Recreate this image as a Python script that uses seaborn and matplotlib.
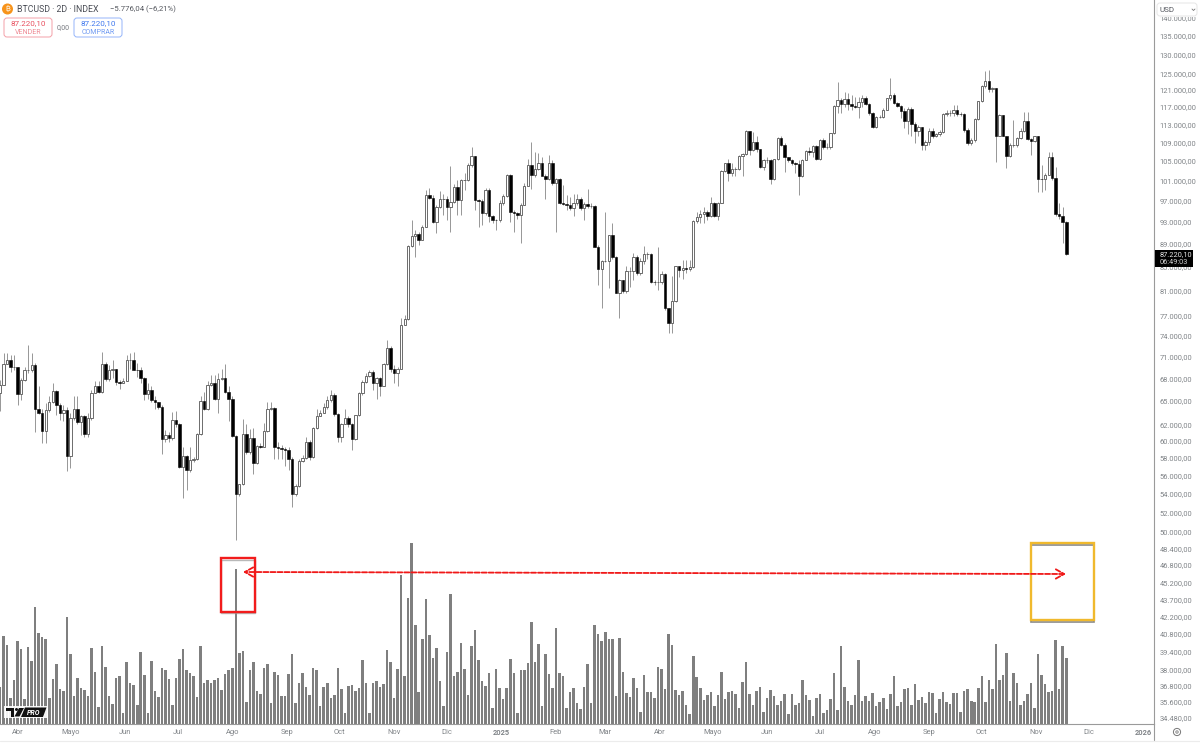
import matplotlib
matplotlib.use("Agg")
import numpy as np
import pandas as pd
import seaborn as sns
import matplotlib.pyplot as plt
from matplotlib.patches import Rectangle, FancyBboxPatch, Circle, Polygon

# 2D candles, thousands of USD
closes = [
    67.1, 70.0, 70.6, 69.5, 69.6, 65.9, 67.7, 69.2, 69.2, 69.9,
    63.9, 63.4, 61.2, 63.8, 64.9, 66.3, 64.4, 63.4, 63.8, 58.2,
    62.8, 64.0, 62.3, 63.0, 60.8, 62.8, 66.0, 66.9, 66.1, 70.0,
    67.9, 69.2, 69.3, 67.5, 67.4, 67.6, 70.5, 70.6, 69.2, 69.1,
    68.1, 65.9, 66.4, 65.1, 64.8, 64.2, 60.2, 60.7, 60.3, 62.6,
    62.0, 57.0, 58.2, 56.6, 57.7, 57.9, 60.8, 65.0, 63.9, 67.1,
    67.4, 65.2, 67.9, 68.1, 66.1, 65.2, 60.6, 54.0, 55.0, 60.8,
    58.7, 60.4, 57.4, 59.4, 59.3, 61.2, 64.0, 64.1, 59.3, 59.2,
    59.0, 58.9, 57.9, 53.9, 54.8, 57.6, 58.0, 59.9, 58.1, 61.6,
    63.1, 63.5, 64.2, 65.1, 65.8, 63.3, 60.5, 62.1, 62.8, 62.1,
    60.2, 63.2, 66.0, 67.5, 68.3, 68.8, 67.3, 68.0, 66.9, 70.0,
    72.3, 69.3, 68.7, 69.3, 75.7, 76.5, 88.6, 90.3, 90.8, 89.7,
    92.1, 98.2, 97.6, 92.9, 95.7, 97.3, 97.3, 95.7, 96.8, 99.6,
    97.1, 101.0, 101.1, 104.2, 106.0, 97.1, 97.0, 94.6, 99.1, 94.0,
    93.4, 93.3, 96.6, 98.0, 102.1, 94.9, 94.6, 94.2, 96.2, 99.9,
    104.2, 102.2, 103.3, 104.5, 102.0, 101.2, 104.5, 100.4, 101.2, 96.5,
    96.4, 96.2, 95.5, 96.5, 97.3, 95.5, 96.4, 96.0, 96.0, 88.5,
    84.6, 86.0, 86.0, 90.5, 86.7, 80.6, 82.8, 80.9, 84.2, 84.2,
    86.7, 83.9, 85.9, 87.2, 87.2, 82.5, 82.4, 82.4, 83.7, 78.2,
    76.0, 79.4, 85.1, 84.4, 84.7, 84.6, 84.9, 93.2, 93.8, 94.5,
    94.9, 94.1, 96.6, 94.1, 96.6, 103.0, 104.5, 102.6, 103.3, 103.3,
    106.1, 106.5, 111.5, 107.3, 109.1, 107.5, 103.8, 105.3, 105.3, 101.3,
    105.4, 110.0, 108.4, 105.8, 105.3, 104.5, 104.4, 102.0, 105.3, 107.1,
    107.0, 108.2, 105.4, 109.5, 108.0, 108.0, 111.0, 117.3, 118.6, 117.6,
    118.9, 117.6, 117.2, 117.1, 118.2, 119.0, 117.8, 115.6, 112.3, 114.7,
    114.7, 116.4, 119.0, 119.8, 118.0, 117.2, 116.1, 113.8, 116.6, 113.1,
    111.6, 112.3, 108.4, 109.1, 111.6, 110.4, 110.8, 111.3, 115.4, 115.7,
    115.7, 116.2, 115.4, 115.3, 111.7, 108.8, 109.5, 114.2, 118.3, 121.9,
    123.2, 121.2, 121.4, 110.5, 115.2, 110.5, 106.1, 108.4, 108.4, 109.9,
    111.5, 113.8, 109.7, 109.4, 110.3, 101.3, 101.2, 102.1, 105.8, 101.4,
    94.4, 94.1, 93.0, 87.22,
]
highs = [
    67.8, 71.5, 71.5, 71.2, 71.2, 69.6, 68.0, 69.6, 72.7, 71.5,
    70.1, 66.9, 64.0, 64.7, 65.6, 67.3, 66.4, 64.7, 64.5, 64.2,
    63.4, 65.6, 65.6, 63.2, 63.2, 63.4, 66.4, 67.6, 67.6, 71.7,
    70.3, 69.8, 70.5, 69.3, 67.8, 68.0, 71.2, 71.5, 71.7, 70.1,
    69.6, 68.2, 67.3, 66.9, 65.6, 64.9, 64.5, 61.3, 61.1, 63.6,
    63.7, 62.2, 59.3, 58.3, 59.3, 58.1, 60.9, 65.6, 66.2, 67.6,
    68.5, 68.5, 68.7, 69.3, 70.0, 66.9, 65.6, 60.7, 55.0, 62.7,
    62.0, 61.5, 61.6, 59.5, 59.7, 62.2, 64.9, 64.9, 64.2, 59.9,
    59.5, 59.3, 59.3, 58.1, 55.0, 57.9, 58.3, 60.5, 60.1, 61.7,
    64.0, 63.8, 64.7, 65.6, 66.4, 66.0, 63.4, 62.2, 64.0, 63.0,
    62.2, 63.2, 66.2, 67.8, 68.7, 69.1, 69.1, 68.2, 68.2, 70.1,
    73.4, 72.5, 69.8, 69.6, 76.7, 77.2, 88.8, 93.3, 91.5, 91.2,
    92.4, 99.1, 99.4, 98.1, 96.1, 98.9, 98.3, 98.0, 104.0, 100.2,
    101.1, 101.2, 102.5, 104.5, 108.0, 106.1, 97.4, 97.4, 99.4, 99.4,
    94.2, 93.6, 97.1, 98.4, 102.3, 102.3, 95.2, 94.9, 96.5, 100.4,
    105.5, 109.0, 106.9, 106.6, 105.9, 102.3, 106.2, 105.2, 101.4, 101.4,
    100.0, 98.1, 97.8, 98.4, 98.4, 97.8, 96.8, 99.3, 96.5, 96.2,
    88.8, 86.1, 94.9, 90.6, 92.7, 86.9, 83.0, 82.8, 85.1, 85.0,
    87.4, 87.0, 86.5, 88.6, 87.6, 87.3, 82.8, 88.5, 84.2, 83.9,
    78.2, 83.4, 85.2, 84.9, 86.1, 86.1, 86.1, 93.4, 94.9, 95.2,
    95.8, 95.2, 97.8, 96.8, 96.8, 103.1, 104.6, 105.5, 104.5, 103.8,
    106.3, 106.7, 111.7, 111.6, 111.3, 110.5, 107.6, 105.5, 105.9, 105.5,
    105.5, 110.2, 110.5, 108.8, 105.9, 105.5, 104.9, 105.2, 105.5, 107.3,
    108.0, 108.4, 108.4, 109.7, 109.9, 108.8, 111.1, 117.4, 123.0, 119.2,
    120.6, 120.2, 119.8, 119.4, 119.4, 119.8, 119.6, 118.0, 115.9, 114.8,
    115.2, 116.7, 119.2, 123.9, 120.2, 118.2, 117.4, 116.7, 117.1, 116.9,
    113.6, 112.9, 112.5, 109.5, 112.1, 112.1, 111.1, 111.7, 115.6, 116.3,
    116.3, 117.4, 117.4, 115.9, 115.6, 112.1, 109.9, 114.4, 118.4, 122.3,
    125.6, 126.0, 121.8, 121.6, 115.4, 115.2, 110.5, 108.8, 114.0, 110.2,
    112.1, 115.9, 115.9, 109.9, 110.5, 110.3, 104.2, 102.5, 107.0, 107.0,
    103.8, 96.5, 95.8, 93.2,
]
lows = [
    63.7, 67.1, 70.0, 68.9, 69.1, 64.5, 65.1, 67.6, 68.7, 68.9,
    61.1, 63.3, 59.7, 59.7, 63.6, 64.7, 63.2, 62.6, 62.4, 56.5,
    56.8, 62.6, 62.0, 60.7, 60.5, 60.5, 62.6, 66.0, 66.0, 66.0,
    67.6, 67.6, 68.0, 67.1, 66.6, 67.3, 67.6, 69.3, 69.1, 68.2,
    67.3, 65.1, 65.3, 64.9, 64.0, 64.0, 58.5, 59.9, 59.9, 60.1,
    61.7, 56.8, 53.5, 54.4, 56.4, 57.5, 57.7, 60.7, 63.8, 63.8,
    66.9, 65.1, 63.4, 67.8, 66.0, 62.4, 60.5, 49.2, 53.7, 54.9,
    58.5, 58.5, 56.1, 57.3, 59.1, 59.3, 61.1, 63.8, 57.9, 57.9,
    57.9, 57.1, 56.6, 52.6, 53.7, 54.7, 57.5, 57.9, 57.7, 58.0,
    61.5, 63.0, 63.4, 64.0, 64.9, 63.0, 59.9, 59.9, 62.0, 61.7,
    58.9, 60.1, 63.0, 65.8, 67.3, 68.2, 66.4, 65.2, 65.6, 66.9,
    69.8, 68.9, 67.3, 66.9, 73.4, 75.6, 76.4, 88.5, 86.7, 88.8,
    89.7, 92.1, 97.4, 92.7, 90.9, 95.5, 94.2, 93.3, 91.2, 96.5,
    94.2, 94.2, 99.1, 100.8, 103.8, 95.2, 92.1, 92.4, 94.2, 93.0,
    92.7, 91.5, 93.0, 96.1, 97.8, 93.0, 91.2, 93.6, 89.1, 96.1,
    100.0, 99.3, 101.7, 103.1, 102.1, 97.4, 101.1, 100.0, 91.2, 96.4,
    96.1, 95.2, 95.2, 94.0, 96.1, 95.2, 93.3, 95.5, 95.5, 88.4,
    82.0, 78.2, 85.8, 81.4, 86.4, 80.6, 76.7, 80.6, 80.6, 81.7,
    82.8, 83.6, 83.6, 85.5, 86.4, 82.2, 82.0, 81.1, 82.1, 77.9,
    74.4, 74.4, 79.2, 83.3, 83.0, 84.0, 84.2, 84.8, 92.7, 92.7,
    92.7, 93.3, 93.9, 93.9, 93.3, 96.5, 102.8, 100.8, 102.0, 102.0,
    103.1, 102.0, 106.3, 106.3, 107.2, 107.0, 103.5, 103.1, 104.5, 100.3,
    101.1, 105.2, 108.2, 102.8, 104.9, 104.2, 102.5, 98.2, 101.8, 105.2,
    106.3, 105.9, 105.2, 105.2, 107.6, 107.6, 107.6, 110.8, 115.6, 115.6,
    117.1, 116.3, 116.3, 116.7, 114.4, 117.1, 117.4, 115.2, 112.1, 112.1,
    114.4, 114.4, 116.3, 118.6, 117.7, 117.1, 114.4, 112.1, 110.8, 110.5,
    108.8, 110.5, 107.3, 107.3, 108.4, 109.9, 110.1, 110.5, 111.0, 114.8,
    114.9, 114.8, 114.9, 114.8, 111.3, 108.4, 108.4, 109.1, 114.0, 118.1,
    121.4, 120.6, 120.6, 104.9, 110.3, 110.3, 103.5, 105.9, 108.0, 108.0,
    109.7, 111.3, 109.5, 106.3, 109.1, 98.6, 98.6, 99.1, 102.1, 101.1,
    94.1, 93.6, 89.2, 87.1,
]
first_open = 66.0

# volume has no scale in the chart, so these are only relative heights
volumes = [
    37, 88, 79, 26, 44, 83, 75, 25, 77, 63,
    117, 91, 87, 85, 26, 45, 60, 35, 33, 107,
    70, 28, 46, 36, 34, 28, 76, 52, 17, 78,
    57, 28, 20, 46, 48, 11, 62, 41, 39, 19,
    72, 49, 11, 63, 33, 27, 56, 54, 45, 19,
    46, 65, 75, 54, 51, 48, 27, 78, 41, 44,
    41, 44, 46, 34, 50, 54, 56, 155, 71, 73,
    22, 54, 62, 33, 30, 56, 60, 21, 52, 49,
    28, 28, 50, 70, 21, 41, 51, 37, 29, 56,
    54, 18, 37, 41, 26, 29, 56, 35, 11, 38,
    39, 33, 36, 64, 41, 11, 41, 43, 37, 40,
    74, 62, 26, 55,
    149, 48, 126, 181, 99, 32, 85, 125, 89, 66,
    76, 43, 18, 72, 130, 48, 52, 81, 55, 29,
    78, 94, 64, 43, 38, 51, 16, 55, 36, 25,
    36, 65, 51, 11, 54, 54, 61, 102, 62, 80,
    18, 70, 50, 36, 96, 51, 48, 16, 32, 36,
    21, 15, 37, 60, 21, 99, 90, 83, 92, 85,
    85, 28, 86, 52, 31, 27, 46, 36, 12, 49,
    32, 32, 26, 57, 55, 35, 90, 79, 34, 29,
    33, 19, 10, 68, 47, 36, 24, 29, 32, 18,
    29, 52, 25, 32, 33, 30, 16, 42, 62, 30,
    19, 33, 37, 12, 26, 34, 28, 19, 23, 30,
    10, 30, 19, 21,
    44, 29, 24, 8, 26, 30, 11, 14, 25, 51,
    14, 78, 37, 23, 19, 29, 64, 23, 28, 23,
    31, 18, 22, 26, 15, 30, 48, 18, 22, 35,
    36, 19, 40, 24, 27, 21, 32, 31, 11, 25,
    32, 22, 20, 31, 31, 12, 33, 35, 23, 22,
    36, 48, 22, 44, 35, 80, 44, 49, 71, 23,
    51, 41, 19, 23, 30, 41, 16, 70, 49, 40,
    32, 33, 84, 35, 78, 66,
]

price_ticks = [140000, 135000, 130000, 125000, 121000, 117000, 113000, 109000,
               105000, 101000, 97000, 93000, 89000, 85000, 81000, 77000, 74000,
               71000, 68000, 65000, 62000, 60000, 58000, 56000, 54000, 52000,
               50000, 48400, 46800, 45200, 43700, 42200, 40800, 39400, 38000,
               36800, 35600, 34480]

month_dates = ['2024-04-01', '2024-05-01', '2024-06-01', '2024-07-01', '2024-08-01',
               '2024-09-01', '2024-10-01', '2024-11-01', '2024-12-01', '2025-01-01',
               '2025-02-01', '2025-03-01', '2025-04-01', '2025-05-01', '2025-06-01',
               '2025-07-01', '2025-08-01', '2025-09-01', '2025-10-01', '2025-11-01',
               '2025-12-01', '2026-01-01']
month_labels = ['Abr', 'Mayo', 'Jun', 'Jul', 'Ago', 'Sep', 'Oct', 'Nov', 'Dic', '2025',
                'Feb', 'Mar', 'Abr', 'Mayo', 'Jun', 'Jul', 'Ago', 'Sep', 'Oct', 'Nov',
                'Dic', '2026']

WIDTH, HEIGHT = 1200, 744
PLOT_RIGHT, PLOT_BOTTOM = 1154, 724
BAR_PX = 3.519
TEXT_GREY = '#808488'


def es_number(value):
    return f'{value:,.2f}'.replace(',', 'X').replace('.', ',').replace('X', '.')


df = pd.DataFrame({'bar': range(len(closes)), 'close': closes, 'high': highs, 'low': lows,
                   'volume': volumes})
df['close'] *= 1000
df['high'] *= 1000
df['low'] *= 1000
df['open'] = df['close'].shift(1).fillna(first_open * 1000)
df['date'] = pd.date_range(end='2025-11-18', periods=len(df), freq='2D')
up = df[df['close'] >= df['open']]
down = df[df['close'] < df['open']]

sns.set_theme(style='white')
plt.rcParams['font.family'] = ['Roboto', 'Inter', 'DejaVu Sans']

fig = plt.figure(figsize=(WIDTH / 100, HEIGHT / 100), dpi=100, facecolor='white')
rect = [0, (HEIGHT - PLOT_BOTTOM) / HEIGHT, PLOT_RIGHT / WIDTH, PLOT_BOTTOM / HEIGHT]
xlim = (0, PLOT_RIGHT / BAR_PX)

# volume pane, one unit is one pixel high
ax_vol = fig.add_axes(rect)
sns.barplot(data=df, x='bar', y='volume', color='#7f7f7f', saturation=1, width=0.72,
            linewidth=0, legend=False, ax=ax_vol)
ax_vol.set_xlim(xlim)
ax_vol.set_ylim(0, PLOT_BOTTOM)
ax_vol.axis('off')

# candles on the log price scale
ax = fig.add_axes(rect)
ax.patch.set_alpha(0)
ax.set_yscale('log')
ax.vlines(df['bar'], df['low'], df['high'], color='#969696', lw=0.7, zorder=2)
ax.bar(up['bar'], up['close'] - up['open'], bottom=up['open'], width=0.66,
       facecolor='white', edgecolor='#555555', lw=0.6, zorder=3)
ax.bar(down['bar'], down['open'] - down['close'], bottom=down['close'], width=0.72,
       facecolor='black', edgecolor='black', lw=0.4, zorder=3)
ax.set_xlim(xlim)
ax.set_ylim(34060, 144900)

ax.yaxis.tick_right()
ax.set_yticks(price_ticks)
ax.set_yticklabels([es_number(t) for t in price_ticks])
ax.minorticks_off()
tick_pos = [(pd.Timestamp(d) - df['date'].iloc[0]).days / 2 for d in month_dates]
ax.set_xticks(tick_pos)
ax.set_xticklabels(month_labels)
for lab in ax.get_xticklabels():
    if lab.get_text() in ('2025', '2026'):
        lab.set_fontweight('bold')
ax.tick_params(axis='y', length=0, pad=4.2, labelsize=5.4, labelcolor=TEXT_GREY)
ax.tick_params(axis='x', length=0, pad=3.5, labelsize=5.4, labelcolor=TEXT_GREY)
sns.despine(ax=ax, top=True, left=True, right=False, bottom=False)
for side in ('right', 'bottom'):
    ax.spines[side].set_color('#9a9a9a')
    ax.spines[side].set_linewidth(0.8)

# everything drawn by hand on the screenshot goes on a pixel overlay
ov = fig.add_axes([0, 0, 1, 1], zorder=5)
ov.set_xlim(0, WIDTH)
ov.set_ylim(HEIGHT, 0)
ov.axis('off')


def box(x0, y0, x1, y1, **kw):
    ov.add_patch(Rectangle((x0, y0), x1 - x0, y1 - y0, **kw))


def round_box(x0, y0, x1, y1, color):
    ov.add_patch(FancyBboxPatch((x0, y0), x1 - x0, y1 - y0, boxstyle='round,pad=0,rounding_size=3',
                                facecolor='white', edgecolor=color, lw=0.7))


# header
ov.add_patch(Circle((7.5, 9), 5.5, color='#f7931a', lw=0))
ov.text(7.5, 9, '₿', color='white', fontsize=5.5, ha='center', va='center', family=['Inter', 'Noto Sans', 'Roboto'])
ov.text(17, 9.5, 'BTCUSD · 2D · INDEX', color='#4a4d55', fontsize=6.3, va='center')
ov.text(110, 9.5, '−5.776,04 (−6,21%)', color='#55585f', fontsize=5.6, va='center')
round_box(4, 18, 52, 37, '#f4a0a8')
ov.text(28, 23.5, '87.220,10', color='#e8505f', fontsize=5.8, ha='center', va='center')
ov.text(28, 32, 'VENDER', color='#ee8a94', fontsize=5, ha='center', va='center')
ov.text(63, 28, '0,00', color='#777a80', fontsize=5, ha='center', va='center')
round_box(74, 18, 122, 37, '#94b4fa')
ov.text(98, 23.5, '87.220,10', color='#3f78ee', fontsize=5.8, ha='center', va='center')
ov.text(98, 32, 'COMPRAR', color='#6f9af2', fontsize=5, ha='center', va='center')

# currency selector over the clipped top tick
box(1156, 0, 1200, 17, facecolor='white', edgecolor='none')
round_box(1157, 3, 1197, 16, '#e6e6e6')
ov.text(1160, 9.5, 'USD', color='#55585f', fontsize=5.8, va='center')
ov.plot([1192, 1193.5, 1195], [9, 10.5, 9], color='#777777', lw=0.6)

# last price tag
box(1155, 250, 1193, 267, facecolor='black', edgecolor='none')
ov.text(1159.5, 254.5, '87.220,10', color='#e8e8e8', fontsize=5.3, va='center')
ov.text(1159.5, 262.5, '06:49:03', color='#d0d0d0', fontsize=5.3, va='center')

# rest of the price scale and the bottom edge
ov.plot([PLOT_RIGHT, PLOT_RIGHT], [PLOT_BOTTOM, 740], color='#9a9a9a', lw=0.8)
ov.plot([0, WIDTH], [740.5, 740.5], color='#ececec', lw=0.8)
ov.add_patch(Circle((1177, 732), 3.6, facecolor='none', edgecolor='#777777', lw=0.7))
ov.add_patch(Circle((1177, 732), 1.2, facecolor='none', edgecolor='#777777', lw=0.6))

# red and yellow markup
box(221, 559.5, 255, 613, facecolor='none', edgecolor='#9a9a9a', lw=1.0, alpha=0.7)
box(221, 558, 255, 612, facecolor='none', edgecolor='#f21c1c', lw=1.7)
box(1031, 544.5, 1094, 621.5, facecolor='none', edgecolor='#8a8a8a', lw=1.2)
box(1031, 543, 1094, 620, facecolor='none', edgecolor='#f0b92d', lw=1.7)
ov.annotate('', xy=(243, 572), xytext=(1066, 574),
            arrowprops=dict(arrowstyle='<->,head_length=0.5,head_width=0.28', color='#f01818',
                            lw=1.3, linestyle=(0, (2.8, 1.1)), shrinkA=0, shrinkB=0))

# TradingView PRO badge
box(4, 705.5, 47.5, 718, facecolor='white', edgecolor='none', alpha=0.9)
ov.add_patch(Polygon([(6, 708), (14, 708), (14, 716.5), (10.5, 716.5), (10.5, 711), (6, 711)],
                     facecolor='#111111', lw=0))
ov.add_patch(Circle((16.5, 709.5), 1.5, color='#111111', lw=0))
ov.add_patch(Polygon([(19, 708), (24, 708), (19.5, 716.5), (14.5, 716.5)], facecolor='#111111', lw=0))
ov.add_patch(Polygon([(25, 707.5), (46.5, 707.5), (43, 717), (21, 717)], facecolor='#111111', lw=0))
ov.text(34, 712.3, 'PRO', color='white', fontsize=5, fontweight='bold', fontstyle='italic',
        ha='center', va='center')

fig.savefig('out.png', dpi=100)
plt.close(fig)
